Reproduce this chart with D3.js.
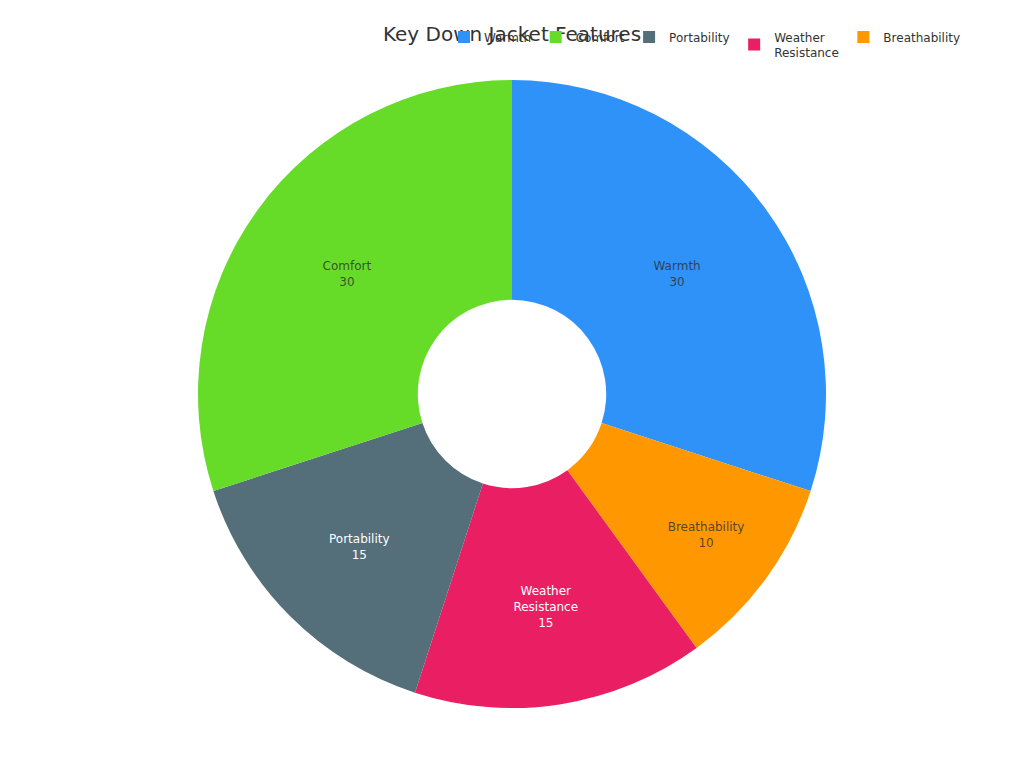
<!DOCTYPE html>
<html>
<head>
<meta charset="utf-8">
<script src="https://cdn.jsdelivr.net/npm/d3@7/dist/d3.min.js"></script>
<style>
  html, body { margin: 0; padding: 0; background: #fff; }
  svg { display: block; font-family: "DejaVu Sans", sans-serif; }
</style>
</head>
<body>
<svg id="chart" width="1024" height="768"></svg>
<script>
// Data in drawing order (clockwise from top)
const categories = ["Warmth", "Breathability", "Weather Resistance", "Portability", "Comfort"];
const values = [30, 10, 15, 15, 30];
const colors = ["#2f92f8", "#ff9800", "#e91e63", "#546e7a", "#66dc29"];
// Legend order
const legendOrder = ["Warmth", "Comfort", "Portability", "Weather Resistance", "Breathability"];
const darkLabel = [true, true, false, false, true];
const title = "Key Down Jacket Features";

const W = 1024, H = 768;
const cx = 512, cy = 394;
const outerR = 314;
const hole = 0.3;
const innerR = outerR * hole;

const svg = d3.select("#chart");

// Title
svg.append("text")
  .attr("x", 512).attr("y", 41)
  .attr("text-anchor", "middle")
  .attr("font-size", 20)
  .attr("fill", "#333")
  .text(title);

const data = categories.map((c, i) => ({ name: c, value: values[i], color: colors[i], dark: darkLabel[i] }));

const pie = d3.pie().value(d => d.value).sort(null);
const arcs = pie(data);
const arc = d3.arc().innerRadius(innerR).outerRadius(outerR);

const g = svg.append("g").attr("transform", `translate(${cx},${cy})`);

g.selectAll("path.slice")
  .data(arcs)
  .join("path")
  .attr("class", "slice")
  .attr("d", arc)
  .attr("fill", d => d.data.color);

// Label placement: inscribed-circle approach
const ring = 1 - hole;
function labelPos(d) {
  const half = (d.endAngle - d.startAngle) / 2;
  const rIns = Math.min(1 / (1 + 1 / Math.sin(half)), ring / 2);
  const rc = (1 - rIns) * outerR;
  const mid = (d.startAngle + d.endAngle) / 2;
  return [rc * Math.sin(mid), -rc * Math.cos(mid)];
}

const lineH = 16;
arcs.forEach(d => {
  const [x, y] = labelPos(d);
  const lines = d.data.name.split(" ").concat([String(d.data.value)]);
  const n = lines.length;
  const t = g.append("text")
    .attr("text-anchor", "middle")
    .attr("font-size", 12)
    .attr("fill", d.data.dark ? "rgba(45,45,45,0.8)" : "#ffffff");
  lines.forEach((ln, i) => {
    t.append("tspan")
      .attr("x", x)
      .attr("y", y + (i - (n - 1) / 2) * lineH + 4)
      .text(ln);
  });
});

// Legend
const legend = svg.append("g");
let lx = 458;
legendOrder.forEach(name => {
  const i = categories.indexOf(name);
  const words = name.split(" ");
  const lines = words.length > 1 ? words : [name];
  const item = legend.append("g");
  const cyItem = 37 + (lines.length - 1) * 7.5;
  item.append("rect")
    .attr("x", lx).attr("y", cyItem - 6)
    .attr("width", 12).attr("height", 12)
    .attr("fill", colors[i]);
  const t = item.append("text")
    .attr("font-size", 12)
    .attr("fill", "#333");
  lines.forEach((ln, k) => {
    t.append("tspan").attr("x", lx + 26).attr("y", 42 + k * 15).text(ln);
  });
  const w = t.node().getBBox().width;
  lx = lx + 26 + w + 18.5;
});
</script>
</body>
</html>
